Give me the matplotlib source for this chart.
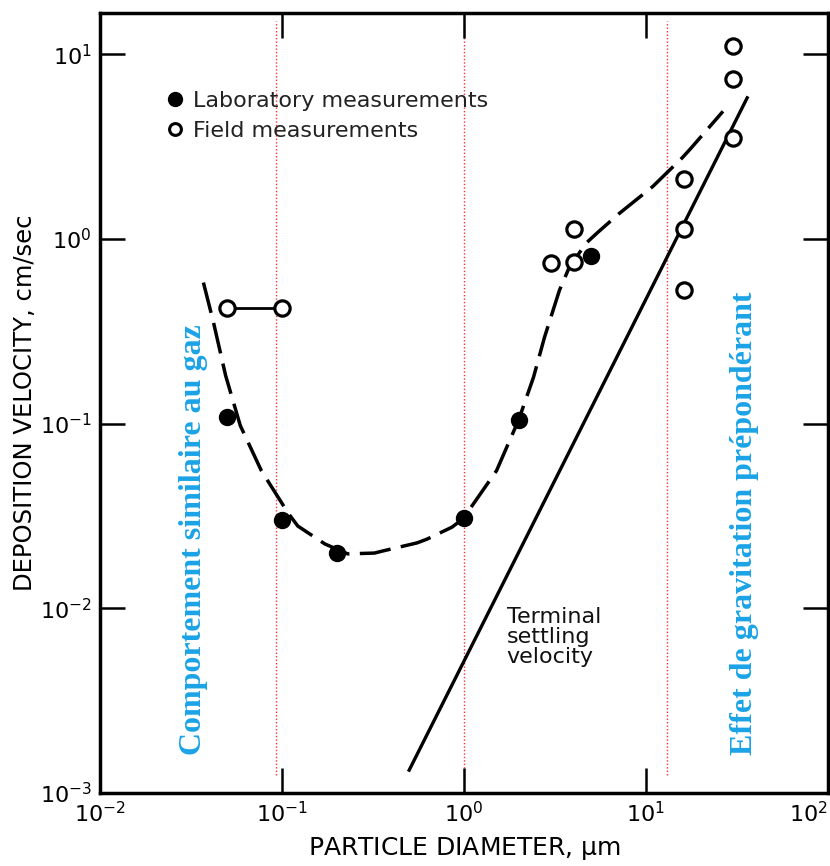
import matplotlib
matplotlib.use("Agg")
import matplotlib.pyplot as plt
from matplotlib.lines import Line2D
from matplotlib.ticker import FixedLocator, NullLocator

plt.rcParams['font.family'] = ['DejaVu Sans']
plt.rcParams['mathtext.default'] = 'regular'

# Laboratory measurements (filled)
lab_x = [0.05, 0.1, 0.2, 1.0, 2.0, 5.0]
lab_y = [0.108, 0.030, 0.020, 0.031, 0.104, 0.81]

# Field measurements (open)
field_x = [0.05, 0.1, 3.0, 4.0, 4.0, 16.2, 16.2, 16.2, 30.0, 30.0, 30.0]
field_y = [0.42, 0.42, 0.74, 1.13, 0.75, 2.12, 1.13, 0.53, 11.0, 7.3, 3.5]

# field pair joined by a solid segment
pair_x = [0.05, 0.1]
pair_y = [0.42, 0.42]

# dashed fitted curve
curve_x = [0.037, 0.042, 0.049, 0.059, 0.077, 0.108, 0.122, 0.172, 0.23, 0.322, 0.356,
           0.553, 0.628, 0.86, 1.0, 1.04, 1.51, 2.0, 2.41, 2.77, 3.35, 3.80, 4.70,
           5.47, 7.12, 10.9, 15.9, 17.6, 26.5]
curve_y = [0.58, 0.354, 0.182, 0.0975, 0.0556, 0.0328, 0.0279, 0.0223, 0.0197, 0.0199, 0.0204,
           0.0226, 0.0237, 0.0275, 0.0308, 0.0328, 0.0556, 0.105, 0.178, 0.293, 0.528, 0.705, 0.95,
           1.09, 1.37, 1.92, 2.76, 3.08, 4.9]

# terminal settling velocity
settle_x = [0.50, 36.0]
settle_y = [0.00133, 5.8]

# red dotted separators
sep_x = [0.093, 1.0, 13.0]

xticks = [1e-2, 1e-1, 1e0, 1e1, 1e2]
xtick_labels = ['$10^{-2}$', '$10^{-1}$', '$10^{0}$', '$10^{1}$', '$10^{2}$']
yticks = [1e-3, 1e-2, 1e-1, 1e0, 1e1]
ytick_labels = ['$10^{-3}$', '$10^{-2}$', '$10^{-1}$', '$10^{0}$', '$10^{1}$']

fig = plt.figure(figsize=(8.3, 8.66), dpi=100)
ax = fig.add_axes([0.1205, 0.0843, 0.877, 0.9007])
ax.set_xscale('log')
ax.set_yscale('log')
ax.set_xlim(1e-2, 1e2)
ax.set_ylim(1e-3, 16.7)

for xv in sep_x:
    ax.axvline(xv, ymin=0.023, ymax=0.99, color='#ff3030', lw=1.0, ls=(0, (1, 1.5)), zorder=1)

ax.plot(curve_x, curve_y, color='black', lw=2.5, ls=(0, (9, 3)), zorder=2)
ax.plot(settle_x, settle_y, color='black', lw=2.4, zorder=2)
ax.plot(pair_x, pair_y, color='black', lw=2.0, zorder=2)
ax.plot(lab_x, lab_y, 'o', color='black', ms=11.5, zorder=3)
ax.plot(field_x, field_y, 'o', mfc='white', mec='black', mew=2.3, ms=11, zorder=3)

handles = [Line2D([], [], ls='none', marker='o', color='black', ms=10),
           Line2D([], [], ls='none', marker='o', mfc='white', mec='black', mew=2.2, ms=8.5)]
ax.legend(handles, ['Laboratory measurements', 'Field measurements'],
          loc='upper left', bbox_to_anchor=(0.062, 0.926), frameon=False,
          fontsize=16, handletextpad=0.35, labelspacing=0.45, handlelength=0.9,
          labelcolor='#222222')

ax.text(1.72, 0.0101, 'Terminal\nsettling\nvelocity', ha='left', va='top',
        fontsize=16, linespacing=1.0, color='#111111')

ax.text(0.128, 0.049, 'Comportement similaire au gaz', transform=ax.transAxes,
        rotation=90, ha='center', va='bottom', fontsize=23, fontweight='bold',
        family=['Liberation Serif'], color='#1ba3e6')
ax.text(0.886, 0.049, 'Effet de gravitation prépondérant', transform=ax.transAxes,
        rotation=90, ha='center', va='bottom', fontsize=23, fontweight='bold',
        family=['Liberation Serif'], color='#1ba3e6')

ax.xaxis.set_major_locator(FixedLocator(xticks))
ax.yaxis.set_major_locator(FixedLocator(yticks))
ax.xaxis.set_minor_locator(NullLocator())
ax.yaxis.set_minor_locator(NullLocator())
ax.set_xticklabels(xtick_labels)
ax.set_yticklabels(ytick_labels)
ax.tick_params(which='major', direction='in', length=18, width=1.8,
               top=True, right=True, labelsize=16, pad=6, color='black')
ax.xaxis.get_major_ticks()[-1].label1.set_horizontalalignment('right')

for sp in ax.spines.values():
    sp.set_linewidth(2.5)

ax.set_xlabel('PARTICLE DIAMETER, $\\mu$m', fontsize=18, labelpad=6)
ax.set_ylabel('DEPOSITION VELOCITY, cm/sec', fontsize=17.5, labelpad=2)

fig.savefig('out.png', dpi=100)
